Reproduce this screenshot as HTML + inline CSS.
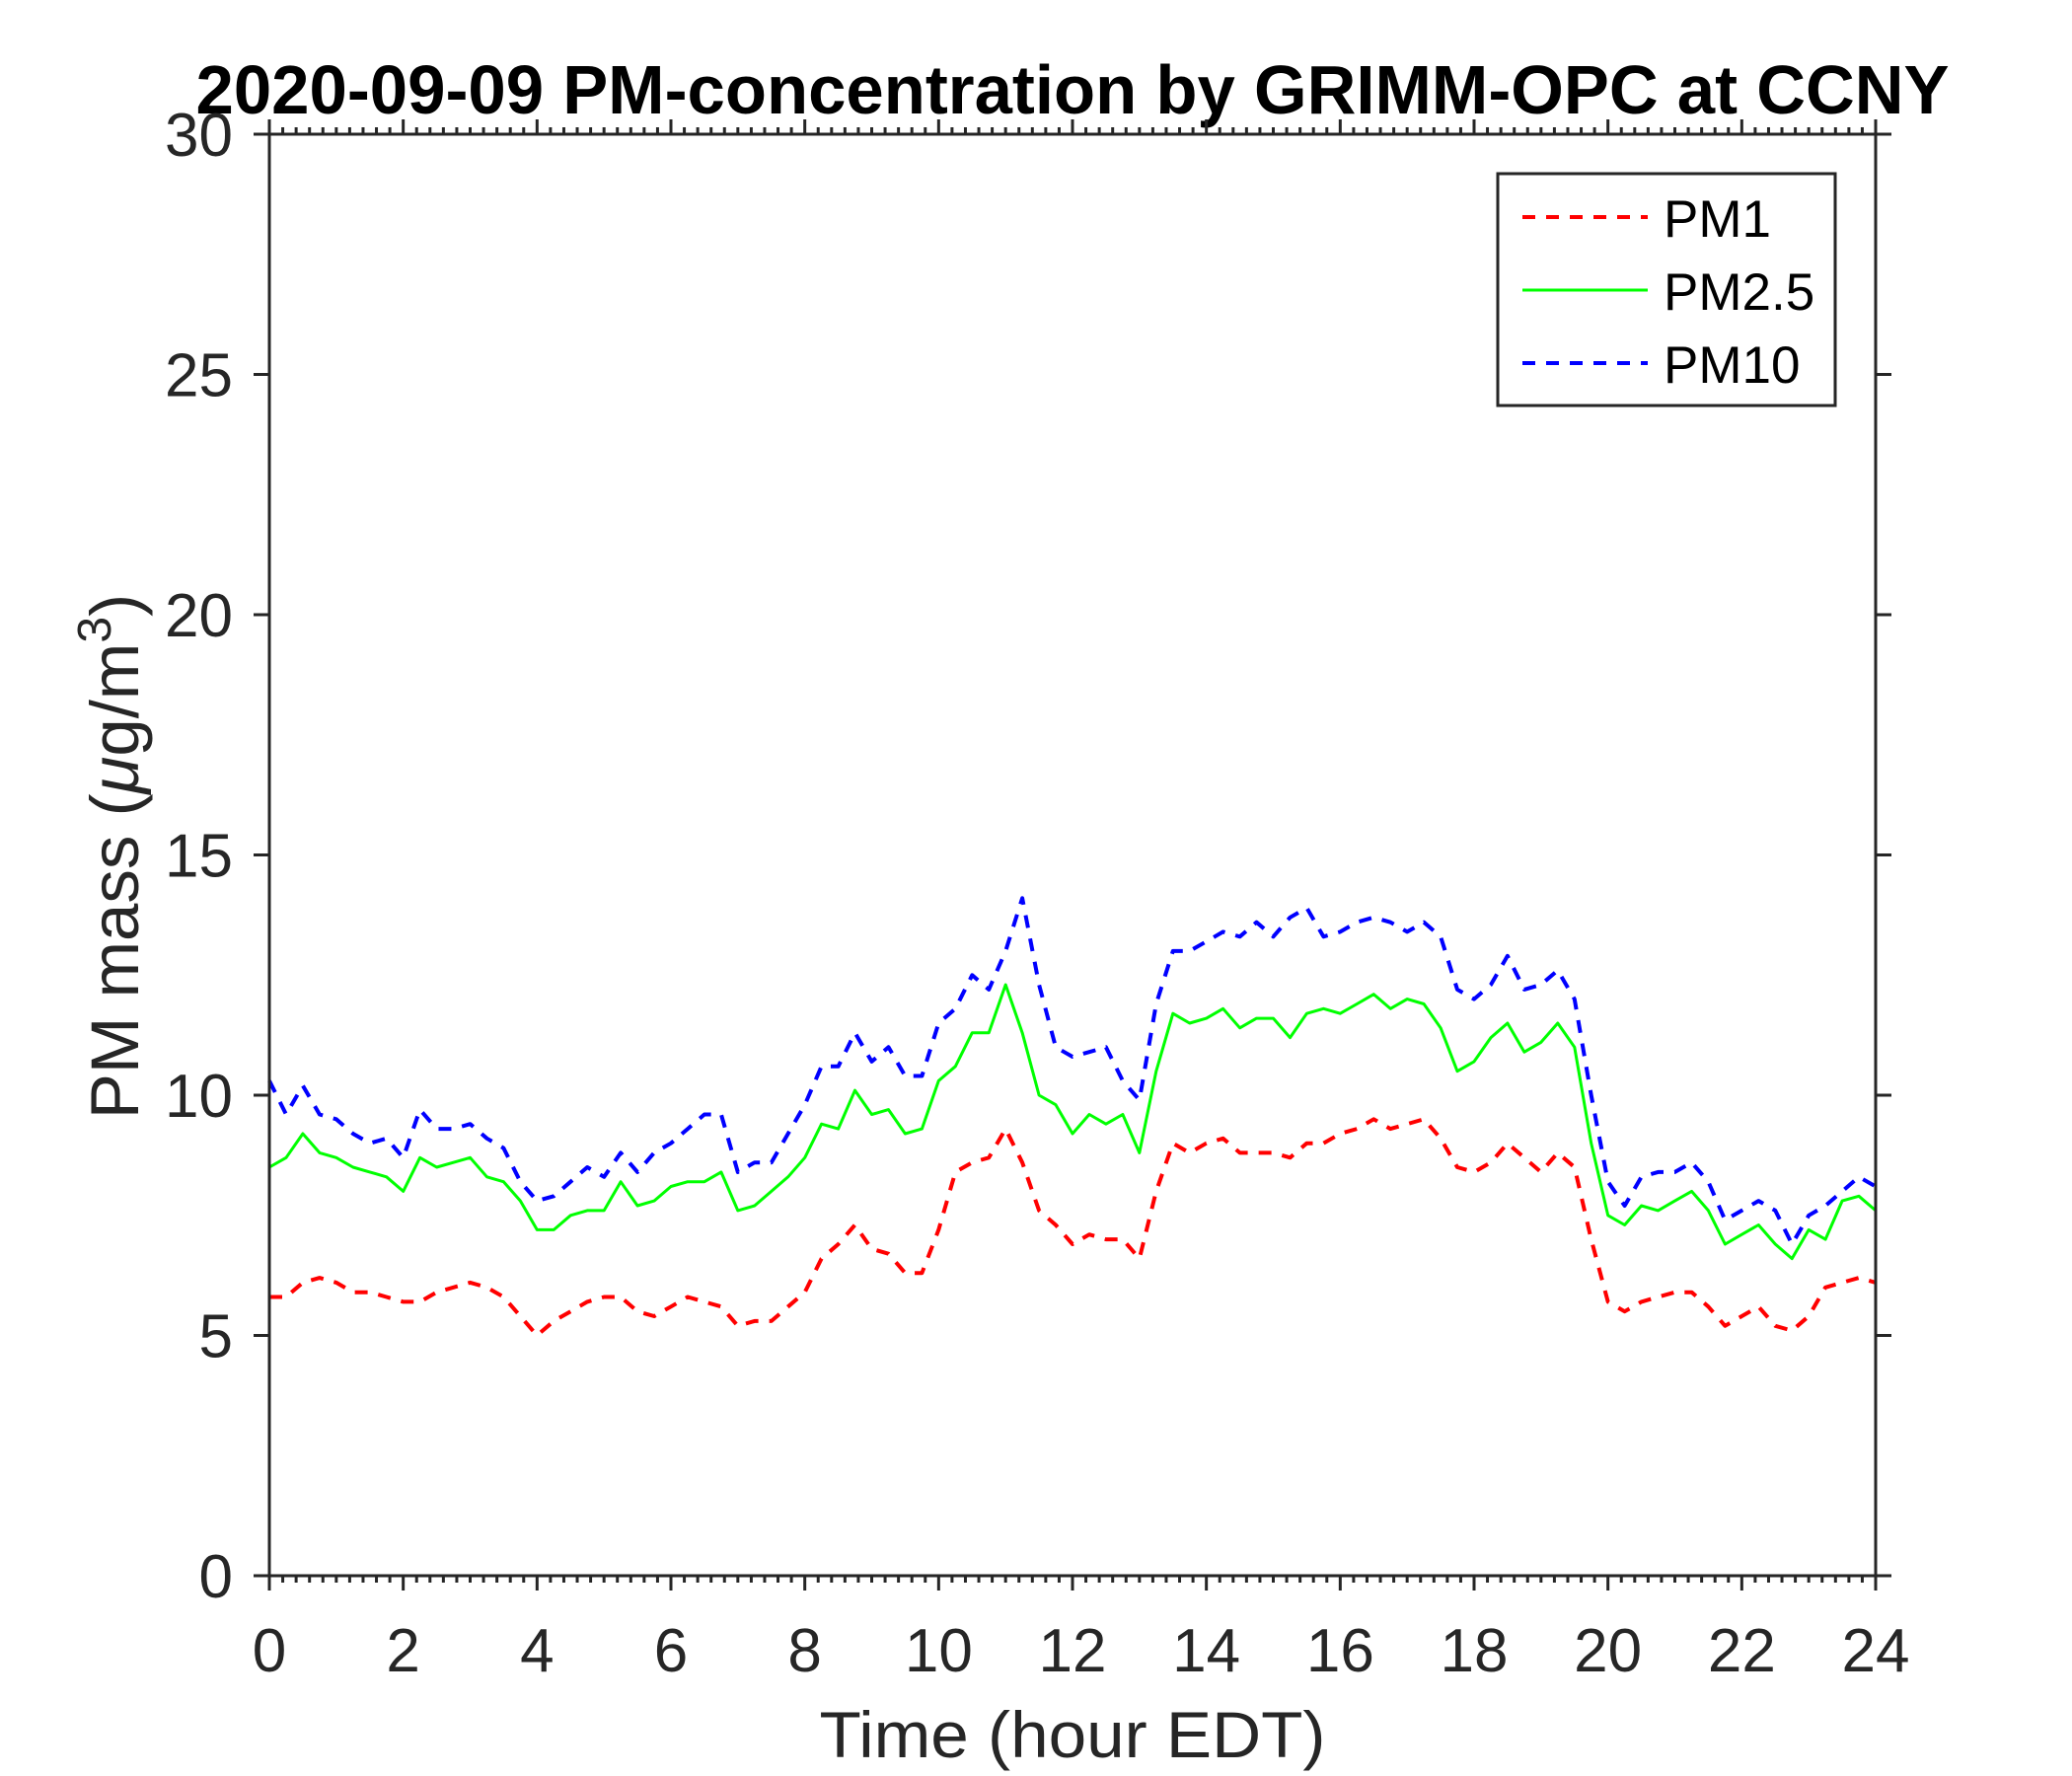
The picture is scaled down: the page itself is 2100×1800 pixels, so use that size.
<!DOCTYPE html>
<html><head><meta charset="utf-8"><style>html,body{margin:0;padding:0;background:#fff}svg{display:block}</style></head>
<body>
<svg id="chart" width="2100" height="1800" viewBox="0 0 2100 1800" xmlns="http://www.w3.org/2000/svg" font-family="Liberation Sans, Arial, sans-serif">
<rect width="2100" height="1800" fill="#fff"/>
<text x="1087" y="115" text-anchor="middle" font-weight="bold" font-size="70" textLength="1777" lengthAdjust="spacingAndGlyphs" fill="#000">2020-09-09 PM-concentration by GRIMM-OPC at CCNY</text>
<g id="series"></g>
<g id="axes"></g>
<text x="1087" y="1781" text-anchor="middle" font-size="66" textLength="513" lengthAdjust="spacingAndGlyphs" fill="#262626">Time (hour EDT)</text>
<text transform="translate(140,868) rotate(-90)" text-anchor="middle" font-size="69" fill="#262626">PM mass (<tspan font-style="italic">μ</tspan>g/m<tspan font-size="48" dy="-28">3</tspan><tspan dy="28">)</tspan></text>
<g>
<rect x="1518" y="176" width="342" height="235" fill="#fff" stroke="#262626" stroke-width="3"/>
<line x1="1543" y1="220" x2="1670" y2="220" stroke="#ff0000" stroke-width="4" stroke-dasharray="13 11"/>
<text x="1686" y="240" font-size="53" fill="#000">PM1</text>
<line x1="1543" y1="294" x2="1670" y2="294" stroke="#00ff00" stroke-width="3"/>
<text x="1686" y="314" font-size="53" fill="#000">PM2.5</text>
<line x1="1543" y1="368" x2="1670" y2="368" stroke="#0000ff" stroke-width="4" stroke-dasharray="13 11"/>
<text x="1686" y="388" font-size="53" fill="#000">PM10</text>
</g>
</svg>
<script>
const hours=[0,0.25,0.5,0.75,1,1.25,1.5,1.75,2,2.25,2.5,2.75,3,3.25,3.5,3.75,4,4.25,4.5,4.75,5,5.25,5.5,5.75,6,6.25,6.5,6.75,7,7.25,7.5,7.75,8,8.25,8.5,8.75,9,9.25,9.5,9.75,10,10.25,10.5,10.75,11,11.25,11.5,11.75,12,12.25,12.5,12.75,13,13.25,13.5,13.75,14,14.25,14.5,14.75,15,15.25,15.5,15.75,16,16.25,16.5,16.75,17,17.25,17.5,17.75,18,18.25,18.5,18.75,19,19.25,19.5,19.75,20,20.25,20.5,20.75,21,21.25,21.5,21.75,22,22.25,22.5,22.75,23,23.25,23.5,23.75,24];
const pm25=[8.5,8.7,9.2,8.8,8.7,8.5,8.4,8.3,8.0,8.7,8.5,8.6,8.7,8.3,8.2,7.8,7.2,7.2,7.5,7.6,7.6,8.2,7.7,7.8,8.1,8.2,8.2,8.4,7.6,7.7,8.0,8.3,8.7,9.4,9.3,10.1,9.6,9.7,9.2,9.3,10.3,10.6,11.3,11.3,12.3,11.3,10.0,9.8,9.2,9.6,9.4,9.6,8.8,10.5,11.7,11.5,11.6,11.8,11.4,11.6,11.6,11.2,11.7,11.8,11.7,11.9,12.1,11.8,12.0,11.9,11.4,10.5,10.7,11.2,11.5,10.9,11.1,11.5,11.0,9.0,7.5,7.3,7.7,7.6,7.8,8.0,7.6,6.9,7.1,7.3,6.9,6.6,7.2,7.0,7.8,7.9,7.6];
const pm10=[10.3,9.6,10.2,9.6,9.5,9.2,9.0,9.1,8.7,9.7,9.3,9.3,9.4,9.1,8.9,8.2,7.8,7.9,8.2,8.5,8.3,8.8,8.4,8.8,9.0,9.3,9.6,9.6,8.4,8.6,8.6,9.2,9.8,10.6,10.6,11.3,10.7,11.0,10.4,10.4,11.5,11.8,12.5,12.2,13.0,14.1,12.3,11.0,10.8,10.9,11.0,10.3,9.9,11.9,13.0,13.0,13.2,13.4,13.3,13.6,13.3,13.7,13.9,13.3,13.4,13.6,13.7,13.6,13.4,13.6,13.3,12.2,12.0,12.3,12.9,12.2,12.3,12.6,12.0,10.0,8.2,7.7,8.3,8.4,8.4,8.6,8.2,7.4,7.6,7.8,7.6,6.9,7.5,7.7,8.0,8.3,8.1];
const pm1=[5.8,5.8,6.1,6.2,6.1,5.9,5.9,5.8,5.7,5.7,5.9,6.0,6.1,6.0,5.8,5.4,5.0,5.3,5.5,5.7,5.8,5.8,5.5,5.4,5.6,5.8,5.7,5.6,5.2,5.3,5.3,5.6,5.9,6.6,6.9,7.3,6.8,6.7,6.3,6.3,7.2,8.4,8.6,8.7,9.3,8.6,7.6,7.3,6.9,7.1,7.0,7.0,6.6,8.0,9.0,8.8,9.0,9.1,8.8,8.8,8.8,8.7,9.0,9.0,9.2,9.3,9.5,9.3,9.4,9.5,9.1,8.5,8.4,8.6,9.0,8.7,8.4,8.8,8.5,7.0,5.7,5.5,5.7,5.8,5.9,5.9,5.6,5.2,5.4,5.6,5.2,5.1,5.4,6.0,6.1,6.2,6.1];
const xTickLabels=["0","2","4","6","8","10","12","14","16","18","20","22","24"];
const yTickLabels=["0","5","10","15","20","25","30"];

const L=273,R=1901,T=136,B=1597,XMAX=24,YMAX=30;
const NS="http://www.w3.org/2000/svg";
function xs(h){return L+(R-L)*h/XMAX;}
function ys(v){return B-(B-T)*v/YMAX;}
function mk(tag,attrs,parent){const e=document.createElementNS(NS,tag);for(const k in attrs)e.setAttribute(k,attrs[k]);parent.appendChild(e);return e;}
const series=document.getElementById('series');
function drawLine(vals,color,dash,name){
  let d='';
  vals.forEach((v,i)=>{d+=(i?'L':'M')+xs(hours[i]).toFixed(1)+' '+ys(v).toFixed(1);});
  const p=mk('path',{d:d,fill:'none',stroke:color,'stroke-width':dash?4:3,'stroke-linejoin':'round'},series);
  if(dash)p.setAttribute('stroke-dasharray','13 11');
  
  
}
drawLine(pm1,'#ff0000',true,'pm1-line');
drawLine(pm25,'#00ff00',false,'pm25-line');
drawLine(pm10,'#0000ff',true,'pm10-line');

const axes=document.getElementById('axes');
const st={stroke:'#262626','stroke-width':3};
const box=mk('rect',{x:L,y:T,width:R-L,height:B-T,fill:'none',stroke:'#262626','stroke-width':3},axes);


for(let k=0;k<=120;k++){
  const x=xs(k*0.2);
  const major=(k%10===0);
  const len=major?15:7;
  mk('line',Object.assign({x1:x,y1:B,x2:x,y2:B+len},st),axes);
  mk('line',Object.assign({x1:x,y1:T,x2:x,y2:T-len},st),axes);
}
xTickLabels.forEach((lab,i)=>{
  const t=mk('text',{x:xs(Number(lab)),y:1694,'text-anchor':'middle','font-size':62,fill:'#262626'},axes);
  t.textContent=lab;
  
  
});
yTickLabels.forEach((lab,i)=>{
  const y=ys(Number(lab));
  mk('line',Object.assign({x1:L-16,y1:y,x2:L,y2:y},st),axes);
  mk('line',Object.assign({x1:R,y1:y,x2:R+16,y2:y},st),axes);
  const t=mk('text',{x:236,y:y+22,'text-anchor':'end','font-size':62,fill:'#262626'},axes);
  t.textContent=lab;
  
  
});
</script>
</body></html>
